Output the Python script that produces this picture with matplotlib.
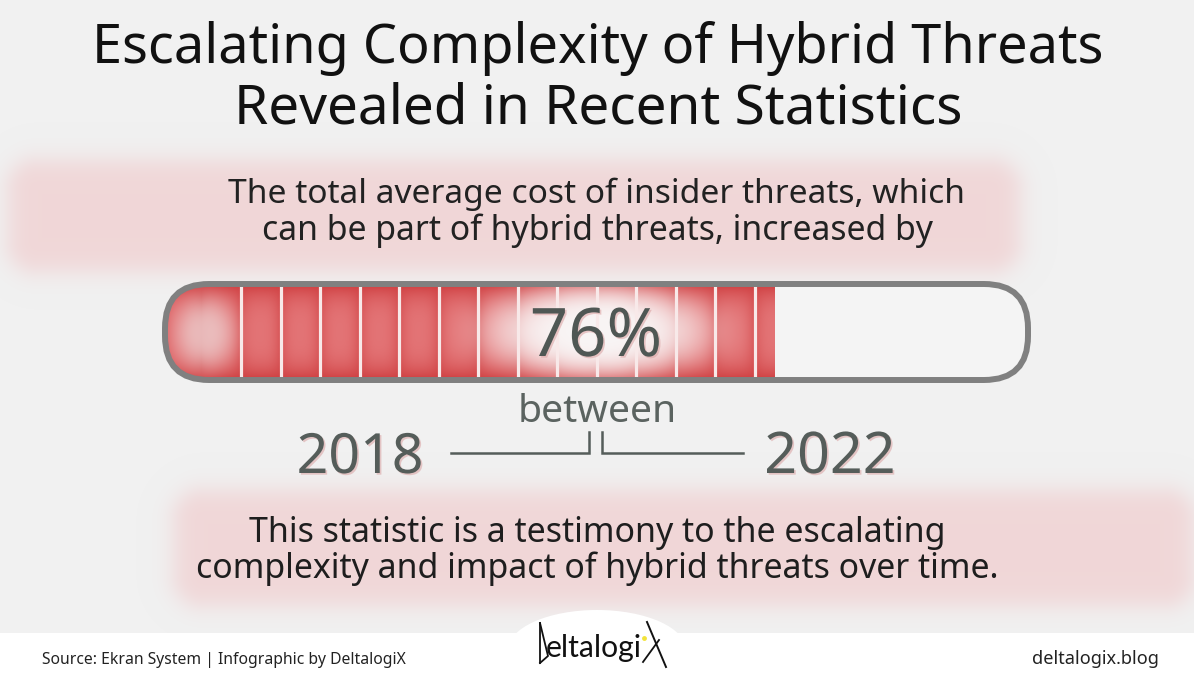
import numpy as np
import matplotlib
matplotlib.use('Agg')
import matplotlib.pyplot as plt
from matplotlib.patches import FancyBboxPatch, Ellipse, Rectangle
import matplotlib.patheffects as pe

# chart content
title_lines = ["Escalating Complexity of Hybrid Threats", "Revealed in Recent Statistics"]
intro_lines = ["The total average cost of insider threats, which",
               "can be part of hybrid threats, increased by"]
pct_increase = 76
years = [2018, 2022]
between_word = "between"
n_segments = 15
outro_lines = ["This statistic is a testimony to the escalating",
               "complexity and impact of hybrid threats over time."]
source_text = "Source: Ekran System | Infographic by DeltalogiX"
site_text = "deltalogix.blog"
logo_mid = "eltalogi"

W, H = 1194, 683
FONT = 'Noto Sans'

fig = plt.figure(figsize=(W / 100, H / 100), dpi=100)
fig.patch.set_facecolor('#f1f1f1')
ax = fig.add_axes([0, 0, 1, 1])
ax.set_xlim(0, W)
ax.set_ylim(H, 0)
ax.axis('off')
renderer = fig.canvas.get_renderer()


def fit_text(x, y, s, width, ha='center', va='baseline', family=FONT, **kw):
    # size the text so it spans the wanted pixel width
    t = ax.text(x, y, s, fontsize=20, ha=ha, va=va, family=family, **kw)
    w = t.get_window_extent(renderer).width
    t.set_fontsize(20 * width / w)
    return t


yy, xx = np.mgrid[0:H, 0:W] + 0.5


def soft_box(x0, x1, y0, y1, r, soft):
    cx, cy = (x0 + x1) / 2, (y0 + y1) / 2
    dx = np.abs(xx - cx) - ((x1 - x0) / 2 - r)
    dy = np.abs(yy - cy) - ((y1 - y0) / 2 - r)
    d = np.hypot(np.maximum(dx, 0), np.maximum(dy, 0)) + np.minimum(np.maximum(dx, dy), 0) - r
    return 1 / (1 + np.exp(d / soft))


# blurred pink panels
a = np.maximum(soft_box(8, 1020, 160, 272, 30, 7), soft_box(174, 1194, 490, 606, 30, 7))
pink = np.zeros((H, W, 4))
pink[..., 0] = 240 / 255
pink[..., 1] = 210 / 255
pink[..., 2] = 211 / 255
pink[..., 3] = a * 0.85
ax.imshow(pink, extent=(0, W, H, 0), origin='upper', zorder=1, interpolation='bilinear')

# title and texts
for i, line in enumerate(title_lines):
    fit_text(598, 63 + i * 60, line, [1010, 729][i], color='#111111', zorder=5)
for i, line in enumerate(intro_lines):
    fit_text(597, 203 + i * 37, line, [736, 671][i], color='#222222', zorder=5)
for i, line in enumerate(outro_lines):
    fit_text(597, 542 + i * 36, line, [697, 803][i], color='#1e1e1e', zorder=5)

# progress bar
bx0, by0, bw, bh = 165, 284, 863, 96
fill_x0 = 168
fill_end = fill_x0 + pct_increase / 100 * 798
ax.add_patch(FancyBboxPatch((bx0, by0), bw, bh, boxstyle="round,pad=0,rounding_size=44",
                            fc='#f4f4f4', ec='none', zorder=2))

fy0, fy1 = by0 + 2, by0 + bh - 2
gx = np.arange(fill_x0, fill_end) + 0.5
gy = np.arange(fy0, fy1) + 0.5
GX, GY = np.meshgrid(gx, gy)
base = np.array([208, 66, 68]) / 255
light = np.array([228, 118, 120]) / 255
vprof = np.clip(1 - np.abs((GY - (fy0 + fy1) / 2) / ((fy1 - fy0) / 2)) ** 3, 0, 1)
seg_w = 39.5
first_line = 241
seg_pos = ((GX - first_line) % seg_w) / seg_w
hprof = np.clip(1 - np.abs(2 * seg_pos - 1) ** 2.5, 0, 1)
k = np.clip(0.35 * vprof + 0.6 * hprof * vprof, 0, 1)[..., None]
img = base * (1 - k) + light * k
# white glow behind the number
r2 = ((GX - 597) / 112) ** 2 + ((GY - 331) / 47) ** 2
g1 = np.exp(-r2 ** 2)[..., None]
img = img * (1 - g1) + np.array([0.975, 0.96, 0.96]) * g1
# light spot at the rounded left end
r3 = ((GX - 205) / 30) ** 2 + ((GY - 333) / 36) ** 2
g2 = (np.exp(-r3 ** 1.5) * 0.85)[..., None]
img = img * (1 - g2) + np.array([236, 202, 202]) / 255 * g2
clip = FancyBboxPatch((bx0, by0), bw, bh, boxstyle="round,pad=0,rounding_size=44",
                      transform=ax.transData, fc='none', ec='none')
im = ax.imshow(img, extent=(fill_x0, fill_end, fy1, fy0), origin='upper', zorder=3,
               interpolation='bilinear')
im.set_clip_path(clip)

line_x = [first_line + i * seg_w for i in range(n_segments - 1)]
ax.vlines(line_x, fy0, fy1, colors='#f8e9e9', lw=2.3, zorder=4)
ax.add_patch(FancyBboxPatch((bx0, by0), bw, bh, boxstyle="round,pad=0,rounding_size=44",
                            fc='none', ec='#808080', lw=4.3, zorder=6))

shadow = [pe.withSimplePatchShadow(offset=(1.2, -1.2), shadow_rgbFace='#d9a0a0', alpha=0.55)]
t = fit_text(596, 356, f"{pct_increase}%", 132, color='#4f5754', zorder=7)
t.set_path_effects(shadow)

# years and bracket
fit_text(597, 422, between_word, 159, color='#5b6360', zorder=5)
for yr, cx, w in zip(years, [360, 830], [127, 132]):
    t = fit_text(cx, 473, str(yr), w, color='#555d5a', fontweight='medium', zorder=5)
    t.set_path_effects(shadow)
ax.plot([451, 589, 589], [453, 453, 432], color='#555d5a', lw=1.8, zorder=5,
        solid_joinstyle='miter')
ax.plot([743, 602, 602], [453, 453, 432], color='#555d5a', lw=1.8, zorder=5,
        solid_joinstyle='miter')

# footer
ax.add_patch(Rectangle((0, 633), W, 50, fc='white', ec='none', zorder=2))
ax.add_patch(Ellipse((597, 650), 178, 80, fc='white', ec='none', zorder=2))
fit_text(42, 664, source_text, 362, ha='left', color='#222222', zorder=5)
fit_text(1159, 664, site_text, 127, ha='right', color='#222222', zorder=5)

# logo: tall D and X drawn as strokes, letters in between as text
fit_text(546, 657, logo_mid, 96, ha='left', family='Lato', color='#111111', zorder=5)
ax.plot([540, 540], [623, 663], color='#111111', lw=1.3, zorder=5)
ax.plot([540, 548, 540], [623, 656, 663], color='#111111', lw=1.3, zorder=5)
ax.plot([647, 666], [622, 667], color='#111111', lw=1.4, zorder=5)
ax.plot([659, 643], [640, 662], color='#111111', lw=1.3, zorder=5)
ax.plot([644], [638], 'o', ms=3.5, color='#f2e33a', mec='none', zorder=6)

fig.savefig('out.png', dpi=100, facecolor=fig.get_facecolor())
